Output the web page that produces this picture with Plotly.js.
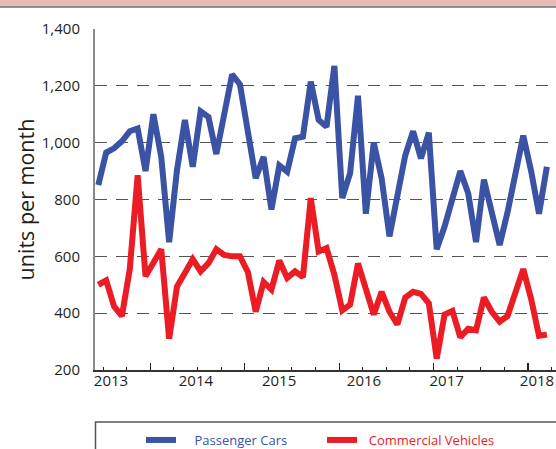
<!DOCTYPE html>
<html>
<head>
<meta charset="utf-8">
<script src="https://cdn.plot.ly/plotly-3.0.1.min.js"></script>
</head>
<body style="margin:0">
<div id="chart" style="width:556px;height:449px"></div>
<script>
// monthly units, one point per month
var passenger = [851, 965, 980, 1005, 1040, 1050, 900, 1100, 950, 650,
  904, 1080, 915, 1110, 1090, 960, 1100, 1240, 1205, 1040,
  875, 950, 765, 920, 898, 1015, 1021, 1215, 1080, 1056,
  1270, 805, 893, 1165, 750, 1000, 875, 670, 800, 955,
  1040, 945, 1035, 625, 705, 800, 900, 822, 650, 870,
  764, 640, 755, 890, 1025, 900, 750, 915];
var commercial = [500, 515, 424, 390, 555, 885, 530, 575, 625, 310,
  494, 541, 590, 547, 576, 625, 605, 600, 600, 545,
  405, 510, 483, 585, 524, 547, 527, 805, 617, 629,
  535, 410, 430, 575, 490, 395, 475, 405, 360, 455,
  475, 468, 435, 240, 395, 408, 315, 345, 340, 455,
  405, 370, 390, 480, 555, 450, 320, 325];
var months = passenger.map(function(v, i){ return i; });

var yearLabels = ['2013', '2014', '2015', '2016', '2017', '2018'];
var yearLabelPos = [1.61, 12.4, 22.97, 33.76, 44.27, 55.75];
var yearTicks = [6.6, 18.6, 30.6, 42.6, 54.6];

var blue = '#3a53a4';
var red = '#ec1c24';
var textCol = '#231f20';

// pixel -> paper helpers (plot area 95..556 x 29..370)
function px(x){ return (x - 95) / 461; }
function py(y){ return (370 - y) / 341; }

var traces = [
  {
    x: months, y: passenger, type: 'scatter', mode: 'lines',
    name: '\u00a0\u00a0\u00a0\u00a0<span style="color:' + blue + '">Passenger Cars</span>',
    line: {color: blue, width: 6}
  },
  {
    x: months, y: commercial, type: 'scatter', mode: 'lines',
    name: '\u00a0\u00a0<span style="color:' + red + '">Commercial Vehicles</span>',
    line: {color: red, width: 6}
  },
  {x: [], y: [], xaxis: 'x2', showlegend: false, hoverinfo: 'skip'}
];

var xr = [-0.42, 58.16];

var layout = {
  width: 556, height: 449,
  margin: {l: 95, r: 0, t: 29, b: 79, autoexpand: false},
  paper_bgcolor: 'white', plot_bgcolor: 'white',
  font: {family: 'Open Sans, sans-serif', color: textCol},
  showlegend: true,
  legend: {
    orientation: 'h', xref: 'container', yref: 'container',
    x: 141 / 556, xanchor: 'left', y: (449 - 440) / 449, yanchor: 'middle',
    font: {size: 13}, bgcolor: 'rgba(0,0,0,0)', borderwidth: 0,
    itemwidth: 30, entrywidth: 136, entrywidthmode: 'pixels'
  },
  xaxis: {
    range: xr, showgrid: false, zeroline: false,
    tickvals: yearTicks, ticktext: yearTicks.map(function(){ return ''; }),
    ticks: 'inside', ticklen: 7, tickwidth: 1.2, tickcolor: '#222',
    minor: {ticks: 'inside', ticklen: 3, tickwidth: 1, tickcolor: '#222', dtick: 3, tick0: 0.6},
    showline: true, linecolor: '#333', linewidth: 1.5
  },
  xaxis2: {
    overlaying: 'x', range: xr, side: 'bottom', showgrid: false, zeroline: false,
    tickvals: yearLabelPos, ticktext: yearLabels, ticks: '',
    tickfont: {size: 15, color: textCol}, showline: false
  },
  yaxis: {
    range: [200, 1400], dtick: 200, tickformat: ',d',
    tickfont: {size: 15, color: textCol}, ticklabelstandoff: 10,
    showgrid: true, gridcolor: '#555', gridwidth: 1.3, griddash: '12px,9px',
    zeroline: false, showline: true, linecolor: '#8a8a8a', linewidth: 2,
    title: {text: 'units per month', font: {size: 21.5, color: textCol}, standoff: 1}
  },
  shapes: [
    {type: 'rect', xref: 'paper', yref: 'paper', x0: px(0), x1: px(556), y0: py(0), y1: py(6.5),
      fillcolor: '#e8bbb4', line: {width: 0}, layer: 'below'},
    {type: 'line', xref: 'paper', yref: 'paper', x0: px(0), x1: px(556), y0: py(7), y1: py(7),
      line: {color: '#6e6e6e', width: 1.5}},
    {type: 'rect', xref: 'paper', yref: 'paper', x0: px(95.5), x1: px(600), y0: py(422), y1: py(480),
      fillcolor: 'rgba(0,0,0,0)', line: {color: '#555', width: 1.5}}
  ]
};

Plotly.newPlot('chart', traces, layout, {displayModeBar: false, staticPlot: true});
</script>
</body>
</html>
